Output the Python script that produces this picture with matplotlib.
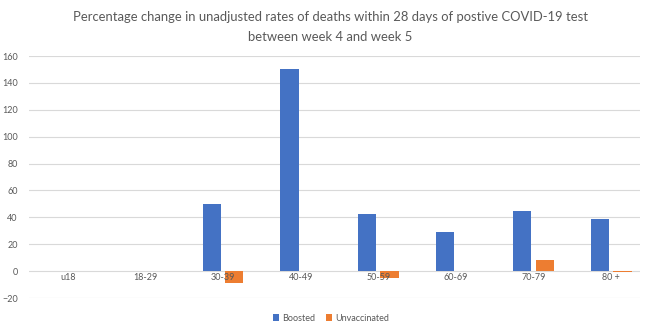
import numpy as np
import matplotlib
matplotlib.use('Agg')
import matplotlib.pyplot as plt

age_groups = ['u18', '18-29', '30-39', '40-49', '50-59', '60-69', '70-79', '80 +']
boosted = [0, 0, 50, 150, 42.5, 29, 44.5, 38.5]
unvaccinated = [0, 0, -9, 0, -5, 0, 8, -1]

blue = '#4472C4'
orange = '#ED7D31'
text_grey = '#595959'

plt.rcParams['font.family'] = ['Lato', 'DejaVu Sans']

fig = plt.figure(figsize=(6.45, 3.35), dpi=100)
# plot area in pixels: x 29..640, y 56..298
ax = fig.add_axes([29 / 645, (335 - 298) / 335, (640 - 29) / 645, (298 - 56) / 335])

x = np.arange(len(age_groups))
w = 0.235
ax.bar(x - 0.145, boosted, w, color=blue, label='Boosted', zorder=3)
ax.bar(x + 0.145, unvaccinated, w, color=orange, label='Unvaccinated', zorder=3)

ax.set_ylim(-20, 160)
ax.set_yticks(range(-20, 161, 20))
ax.set_xlim(-0.5, 7.5 - 10 / 77.6)
ax.yaxis.grid(True, color='#D9D9D9', linewidth=0.8, zorder=0)
for s in ax.spines.values():
    s.set_visible(False)
ax.tick_params(axis='both', length=0, labelsize=6.5, labelcolor=text_grey)
ax.tick_params(axis='y', pad=8)

# category labels sit just under the zero line, as in the original
ax.set_xticks([])
for xi, lab in zip(x, age_groups):
    ax.text(xi, -5, lab, ha='center', va='center', fontsize=6.5, color=text_grey, zorder=4)

fig.text(0.512, 0.950, 'Percentage change in unadjusted rates of deaths within 28 days of postive COVID-19 test',
         ha='center', va='center', fontsize=9.4, color=text_grey)
fig.text(0.512, 0.890, 'between week 4 and week 5',
         ha='center', va='center', fontsize=9.4, color=text_grey)

fig.legend(loc='center', bbox_to_anchor=(0.513, 0.05), ncol=2, frameon=False,
           fontsize=6.5, labelcolor=text_grey, handlelength=0.7, handleheight=0.7,
           handletextpad=0.3, columnspacing=1.2)

fig.savefig('out.png', dpi=100, facecolor='white')
